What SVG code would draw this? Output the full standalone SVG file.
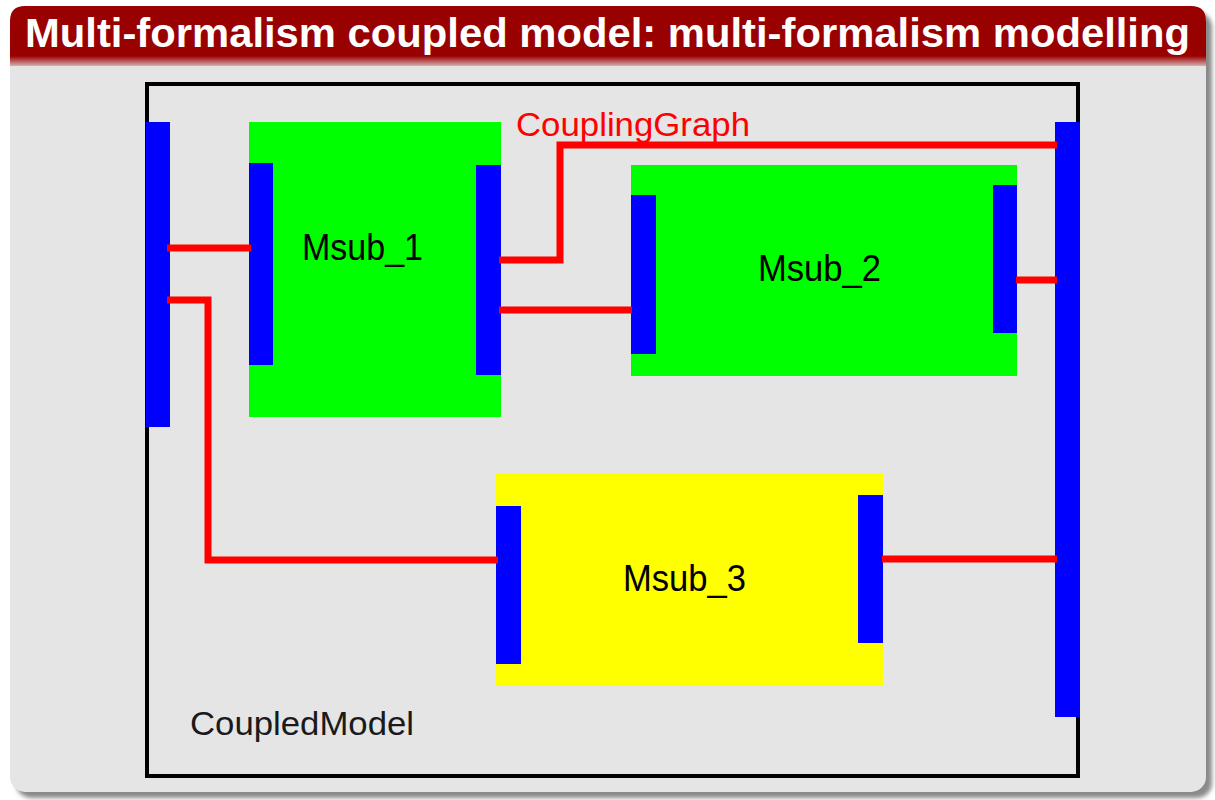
<svg xmlns="http://www.w3.org/2000/svg" width="1215" height="800" viewBox="0 0 1215 800">
<style>
.port{fill:#0000ff}
.wire{fill:none;stroke:#ff0000;stroke-width:7;stroke-linejoin:miter}
.lbl{font-family:"Liberation Sans",Arial,sans-serif;font-size:36px;fill:#000}
</style>
<defs>
<linearGradient id="tshade" x1="0" y1="0" x2="0" y2="1">
<stop offset="0" stop-color="#990000"/>
<stop offset="1" stop-color="#d8b0b0"/>
</linearGradient>
<filter id="sh" x="-5%" y="-5%" width="110%" height="110%">
<feGaussianBlur stdDeviation="2"/>
</filter>
</defs>
<rect x="0" y="0" width="1215" height="800" fill="#ffffff"/>
<!-- slide panel -->
<rect x="16" y="12" width="1196" height="786" rx="15" fill="#8a8a8a" filter="url(#sh)"/>
<rect x="10" y="6" width="1196" height="786" rx="15" fill="#e5e5e5"/>
<path d="M10,60 V21 Q10,6 25,6 H1191 Q1206,6 1206,21 V60 Z" fill="#990000"/>
<rect x="10" y="56" width="1196" height="10" fill="url(#tshade)"/>
<text x="25" y="47" font-family="Liberation Sans, Arial, sans-serif" font-weight="bold" font-size="40" fill="#ffffff" textLength="1165" lengthAdjust="spacingAndGlyphs">Multi-formalism coupled model: multi-formalism modelling</text>
<!-- coupled model frame -->
<g id="CoupledModel">
<rect x="147" y="84" width="931" height="692" fill="none" stroke="#000" stroke-width="4"/>
<rect class="port" x="146" y="122" width="24" height="305"/>
<rect class="port" x="1055" y="122" width="25" height="595"/>
<text x="190" y="735" font-family="Liberation Sans, Arial, sans-serif" font-size="33" fill="#1a1a1a" textLength="224" lengthAdjust="spacingAndGlyphs">CoupledModel</text>
</g>
<g id="Msub_1">
<rect x="249" y="122" width="252" height="295" fill="#00ff00"/>
<rect class="port" x="249" y="163" width="24" height="202"/>
<rect class="port" x="476" y="165" width="25" height="210"/>
<text class="lbl" x="302" y="260" textLength="121" lengthAdjust="spacingAndGlyphs">Msub_1</text>
</g>
<g id="Msub_2">
<rect x="631" y="165" width="386" height="211" fill="#00ff00"/>
<rect class="port" x="631" y="195" width="25" height="159"/>
<rect class="port" x="993" y="185" width="24" height="148"/>
<text class="lbl" x="758" y="281" textLength="123" lengthAdjust="spacingAndGlyphs">Msub_2</text>
</g>
<g id="Msub_3">
<rect x="496" y="473" width="387" height="213" fill="#ffff00"/>
<rect class="port" x="496" y="506" width="25" height="158"/>
<rect class="port" x="858" y="495" width="25" height="148"/>
<text class="lbl" x="623" y="591" textLength="123" lengthAdjust="spacingAndGlyphs">Msub_3</text>
</g>
<g id="connectors">
<path class="wire" d="M167,248 H251"/>
<path class="wire" d="M167,300 H208 V560 H498"/>
<path class="wire" d="M499,260 H560 V145 H1057"/>
<path class="wire" d="M499,310 H632"/>
<path class="wire" d="M1016,280 H1057"/>
<path class="wire" d="M882,559 H1057"/>
<text x="516" y="136" font-family="Liberation Sans, Arial, sans-serif" font-size="33" fill="#ff0000" textLength="234" lengthAdjust="spacingAndGlyphs">CouplingGraph</text>
</g>
</svg>
